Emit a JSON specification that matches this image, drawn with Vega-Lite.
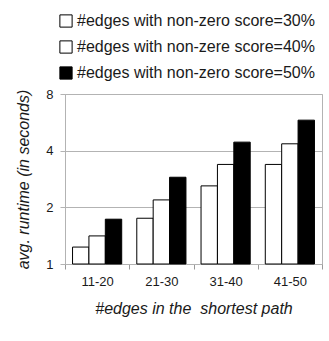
{
  "$schema": "https://vega.github.io/schema/vega-lite/v6.json",
  "width": 257,
  "height": 170,
  "autosize": "none",
  "padding": {"left": 65, "top": 94, "right": 7, "bottom": 77},
  "config": {
    "font": "Liberation Sans",
    "view": {"stroke": "#b3b3b3", "strokeWidth": 1},
    "axis": {
      "labelFont": "Liberation Sans",
      "labelColor": "#1a1a1a",
      "labelFontSize": 13,
      "titleFont": "Liberation Sans",
      "titleFontSize": 16,
      "titleFontStyle": "italic",
      "titleFontWeight": "normal",
      "titleColor": "#1a1a1a",
      "domainColor": "#b3b3b3",
      "tickColor": "#b3b3b3",
      "gridColor": "#b3b3b3"
    }
  },
  "data": {
    "values": [
      {"group": "11-20", "series": "#edges with non-zero score=30%", "runtime": 1.23},
      {"group": "11-20", "series": "#edges with non-zere score=40%", "runtime": 1.41},
      {"group": "11-20", "series": "#edges with non-zero score=50%", "runtime": 1.73},
      {"group": "21-30", "series": "#edges with non-zero score=30%", "runtime": 1.75},
      {"group": "21-30", "series": "#edges with non-zere score=40%", "runtime": 2.19},
      {"group": "21-30", "series": "#edges with non-zero score=50%", "runtime": 2.89},
      {"group": "31-40", "series": "#edges with non-zero score=30%", "runtime": 2.6},
      {"group": "31-40", "series": "#edges with non-zere score=40%", "runtime": 3.38},
      {"group": "31-40", "series": "#edges with non-zero score=50%", "runtime": 4.44},
      {"group": "41-50", "series": "#edges with non-zero score=30%", "runtime": 3.38},
      {"group": "41-50", "series": "#edges with non-zere score=40%", "runtime": 4.35},
      {"group": "41-50", "series": "#edges with non-zero score=50%", "runtime": 5.81}
    ]
  },
  "mark": {"type": "bar", "stroke": "black", "strokeWidth": 1},
  "encoding": {
    "x": {
      "field": "group",
      "type": "nominal",
      "scale": {"paddingInner": 0, "paddingOuter": 0},
      "axis": {
        "title": "#edges in the \u00a0shortest path",
        "labelAngle": 0,
        "bandPosition": 0,
        "ticks": true,
        "tickSize": 5,
        "tickColor": "#999999",
        "tickWidth": 1,
        "tickBand": "extent",
        "domain": true,
        "labelPadding": 6,
        "titlePadding": 12
      }
    },
    "xOffset": {
      "field": "series",
      "type": "nominal",
      "sort": ["#edges with non-zero score=30%", "#edges with non-zere score=40%", "#edges with non-zero score=50%"],
      "scale": {"paddingInner": 0, "paddingOuter": 0.46}
    },
    "y": {
      "field": "runtime",
      "type": "quantitative",
      "stack": null,
      "scale": {"type": "log", "base": 2, "domain": [1, 8], "nice": false},
      "axis": {
        "title": "avg. runtime (in seconds)",
        "values": [1, 2, 4, 8],
        "format": "d",
        "tickSize": 5,
        "labelPadding": 7,
        "titlePadding": 14,
        "grid": true
      }
    },
    "y2": {"datum": 1},
    "fill": {
      "field": "series",
      "type": "nominal",
      "scale": {
        "domain": ["#edges with non-zero score=30%", "#edges with non-zere score=40%", "#edges with non-zero score=50%"],
        "range": ["white", "white", "black"]
      },
      "legend": {
        "title": null,
        "orient": "none",
        "legendX": -7,
        "legendY": -81,
        "symbolType": "square",
        "symbolSize": 150,
        "symbolStrokeColor": "black",
        "symbolStrokeWidth": 1,
        "labelFont": "Liberation Sans",
        "labelFontSize": 16,
        "labelColor": "#1a1a1a",
        "labelOffset": 3,
        "rowPadding": 8,
        "labelLimit": 400
      }
    }
  }
}
